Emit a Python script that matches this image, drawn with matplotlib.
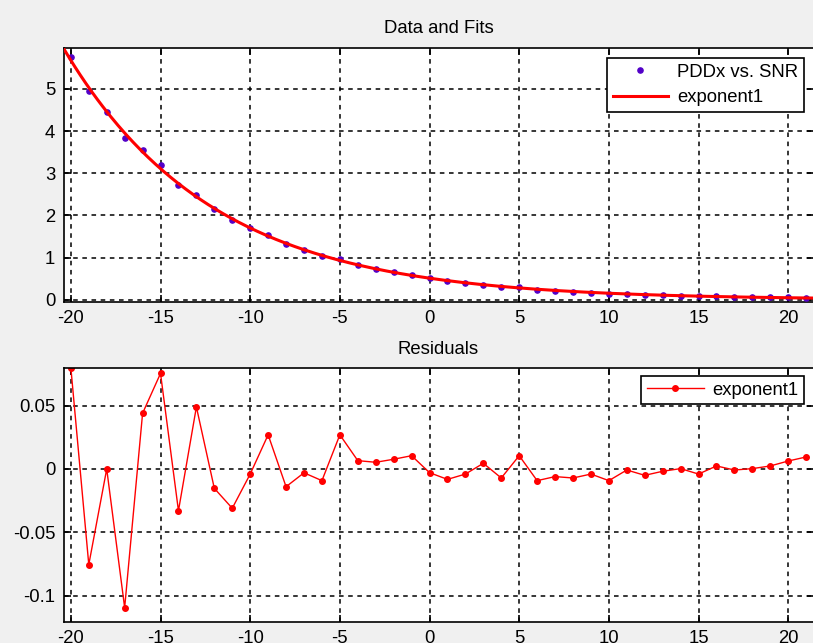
import numpy as np
import matplotlib
matplotlib.use("Agg")
import matplotlib.pyplot as plt

plt.rcParams['font.family'] = ['Liberation Sans', 'DejaVu Sans']
plt.rcParams['axes.unicode_minus'] = False

# ---- data ----
snr = list(range(-20, 22))
pddx = [5.758, 4.959, 4.463, 3.847, 3.551, 3.184, 2.723, 2.492, 2.150, 1.889,
        1.698, 1.536, 1.323, 1.182, 1.042, 0.959, 0.833, 0.737, 0.657, 0.586,
        0.507, 0.444, 0.397, 0.360, 0.308, 0.290, 0.238, 0.213, 0.187, 0.168,
        0.144, 0.135, 0.115, 0.105, 0.095, 0.080, 0.077, 0.065, 0.059, 0.054,
        0.052, 0.050]
residuals = [0.080, -0.0755, 0.0, -0.1095, 0.044, 0.0755, -0.033, 0.049, -0.0153, -0.031,
             -0.004, 0.027, -0.014, -0.003, -0.0092, 0.027, 0.0066, 0.0053, 0.0077, 0.0105,
             -0.0029, -0.0082, -0.004, 0.0045, -0.0071, 0.0105, -0.0092, -0.006, -0.0071, -0.004,
             -0.0092, -0.0008, -0.005, -0.0018, 0.0003, -0.004, 0.0024, -0.0008, 0.0003, 0.0024,
             0.0063, 0.0095]
# exponential fit parameters: y = a*exp(b*x)
fit_a = 0.51
fit_b = -0.1205

xticks = [-20, -15, -10, -5, 0, 5, 10, 15, 20]
xticklabels = ['-20', '-15', '-10', '-5', '0', '5', '10', '15', '20']
top_yticks = [0, 1, 2, 3, 4, 5]
top_yticklabels = ['0', '1', '2', '3', '4', '5']
bot_yticks = [-0.1, -0.05, 0, 0.05]
bot_yticklabels = ['-0.1', '-0.05', '0', '0.05']

W, H = 813, 643
fig = plt.figure(figsize=(W / 100, H / 100), dpi=100, facecolor='#f0f0f0')

FS = 13.3
data_color = '#5200c8'

def px_axes(l, t, r, b):
    return fig.add_axes([l / W, 1 - b / H, (r - l) / W, (b - t) / H])

ax1 = px_axes(63.5, 48.3, 813.5, 302)
ax2 = px_axes(63.5, 367.7, 813.5, 621.7)

xlim = (-20.41, 21.41)

def style(ax):
    ax.set_facecolor('white')
    ax.grid(True, color='black', linestyle=(0, (3, 3)), linewidth=1.1)
    ax.set_axisbelow(True)
    for s in ax.spines.values():
        s.set_linewidth(1.2)
        s.set_color('black')
    ax.tick_params(direction='in', length=5, width=1.2, labelsize=FS, pad=6,
                   top=True, right=True, colors='black')
    ax.set_xticks(xticks)
    ax.set_xticklabels(xticklabels)
    ax.set_xlim(*xlim)

# --- top: data & fit ---
style(ax1)
xf = np.linspace(xlim[0], xlim[1], 400)
ax1.plot(snr, pddx, linestyle='none', marker='.', markersize=7.5, color=data_color,
         label='PDDx vs. SNR', zorder=3)
ax1.plot(xf, fit_a * np.exp(fit_b * xf), color='red', linewidth=2.2,
         label='exponent1', zorder=4)
ax1.set_ylim(-0.055, 5.965)
ax1.set_yticks(top_yticks)
ax1.set_yticklabels(top_yticklabels)
ax1.set_title('Data and Fits', fontsize=FS, pad=11)
leg1 = ax1.legend(loc='upper right', bbox_to_anchor=((804 - 63.5) / 750, 1 - 10 / 253.7),
                  borderaxespad=0, fontsize=FS, fancybox=False, framealpha=1,
                  edgecolor='black', handlelength=3.0, handletextpad=0.5,
                  borderpad=0.3, labelspacing=0.45)
leg1.get_frame().set_linewidth(1.2)

# --- bottom: residuals ---
style(ax2)
ax2.plot(snr, residuals, color='red', linewidth=1.0, marker='.', markersize=8,
         label='exponent1')
ax2.set_ylim(-0.1206, 0.0800)
ax2.set_yticks(bot_yticks)
ax2.set_yticklabels(bot_yticklabels)
ax2.set_title('Residuals', fontsize=FS, pad=10)
leg2 = ax2.legend(loc='upper right', bbox_to_anchor=((804 - 63.5) / 750, 1 - 8.3 / 254),
                  borderaxespad=0, fontsize=FS, fancybox=False, framealpha=1,
                  edgecolor='black', handlelength=3.1, handletextpad=0.45,
                  borderpad=0.3)
leg2.get_frame().set_linewidth(1.2)

fig.savefig('out.png', dpi=100, facecolor=fig.get_facecolor())
